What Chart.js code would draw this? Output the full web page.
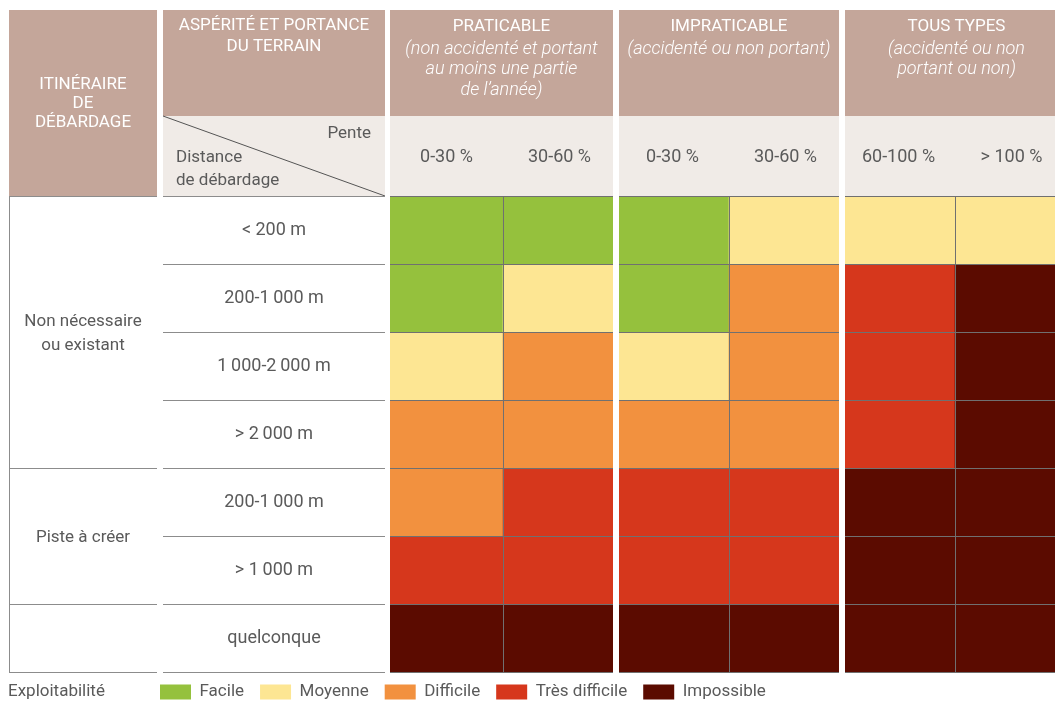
<!DOCTYPE html>
<html><head><meta charset="utf-8">
<script src="https://cdn.jsdelivr.net/npm/chart.js@4.4.1/dist/chart.umd.min.js"></script>
<style>
html,body{margin:0;padding:0;background:#fff;overflow:hidden}
#wrap{width:1055px;height:702px;overflow:hidden;position:relative}
#c{display:block}
</style></head><body>
<div id="wrap"><canvas id="c" width="1068" height="702"></canvas></div>
<script>
// ---- data ----
const slopeLabels = ['0-30 %', '30-60 %', '0-30 %', '30-60 %', '60-100 %', '> 100 %'];
const groupTitles = ['PRATICABLE', 'IMPRATICABLE', 'TOUS TYPES'];
const groupNotes = [
  ['(non accidenté et portant', 'au moins une partie', 'de l’année)'],
  ['(accidenté ou non portant)'],
  ['(accidenté ou non', 'portant ou non)']
];
const groupColumns = [2, 2, 2];
const distanceLabels = ['< 200 m', '200-1\u2009000 m', '1\u2009000-2\u2009000 m', '> 2\u2009000 m', '200-1\u2009000 m', '> 1\u2009000 m', 'quelconque'];
const routeLabels = [['Non nécessaire', 'ou existant'], ['Piste à créer'], ['']];
const routeRowSpans = [4, 2, 1];
const headerRoute = ['ITINÉRAIRE', 'DE', 'DÉBARDAGE'];
const headerTerrain = ['ASPÉRITÉ ET PORTANCE', 'DU TERRAIN'];
const cornerSlope = 'Pente';
const cornerDistance = ['Distance', 'de débardage'];
const legendTitle = 'Exploitabilité';
const levelNames = ['Facile', 'Moyenne', 'Difficile', 'Très difficile', 'Impossible'];
const levelColors = ['#95c13d', '#fde693', '#f2913f', '#d6371c', '#5b0b00'];
// exploitability level (index into levelNames) for each slope column
const rowLt200 = [0, 0, 0, 1, 1, 1];
const row200to1000 = [0, 1, 0, 2, 3, 4];
const row1000to2000 = [1, 2, 1, 2, 3, 4];
const rowGt2000 = [2, 2, 2, 2, 3, 4];
const track200to1000 = [2, 3, 3, 3, 4, 4];
const trackGt1000 = [3, 3, 3, 3, 4, 4];
const rowAny = [4, 4, 4, 4, 4, 4];
const levelRows = [rowLt200, row200to1000, row1000to2000, rowGt2000, track200to1000, trackGt1000, rowAny];

// ---- style / layout ----
const BROWN = '#c4a69a', LIGHT = '#f0ebe7', TEXT = '#5a5a5a', LINE = '#8c8c8c', CELL_LINE = '#707070';
const FAMILY = 'Roboto';
const BODY_SIZE = 17, AXIS_SIZE = 18, BODY_WEIGHT = '400';
const F_BODY = BODY_WEIGHT + ' ' + BODY_SIZE + 'px ' + FAMILY;
const F_AXIS = BODY_WEIGHT + ' ' + AXIS_SIZE + 'px ' + FAMILY;
const F_HEAD = '400 17px ' + FAMILY;
const F_NOTE = 'italic 300 18px ' + FAMILY;
const L = { top: 10, split: 116, c1L: 9, c1R: 157, c2L: 163, c2R: 385, labelCenter: 274, gap: 6, legendY: 692, legendX: 160 };

const mctx = document.createElement('canvas').getContext('2d');
mctx.font = 'normal ' + F_AXIS;
const widest = Math.max(...distanceLabels.map(s => mctx.measureText(s).width));
const Y_LABEL_AXIS_W = 390;
const yPad = (Y_LABEL_AXIS_W - L.labelCenter) - widest / 2;

function txt(ctx, s, x, y, font, color, align) {
  ctx.font = font; ctx.fillStyle = color; ctx.textAlign = align || 'center'; ctx.textBaseline = 'middle';
  ctx.fillText(s, x, y);
}
function hline(ctx, x1, x2, y, color) {
  ctx.strokeStyle = color; ctx.lineWidth = 1; ctx.beginPath();
  ctx.moveTo(x1, Math.round(y) + 0.5); ctx.lineTo(x2, Math.round(y) + 0.5); ctx.stroke();
}

const decor = {
  id: 'decor',
  afterLayout(chart) {
    const lg = chart.legend, pad = lg.options.labels.padding;
    lg.left = L.legendX - pad;
    lg.top = L.legendY - pad - BODY_SIZE / 2;
  },
  beforeDraw(chart) {
    const { ctx, chartArea: ca, scales } = chart;
    const x = scales.x, yr = scales.yRows;
    const colW = (ca.right - ca.left) / slopeLabels.length;
    const rowH = (ca.bottom - ca.top) / distanceLabels.length;
    const colL = i => i < slopeLabels.length ? x.getPixelForTick(i) - colW / 2 : ca.right;
    const rowT = r => r < distanceLabels.length ? yr.getPixelForTick(r) - rowH / 2 : ca.bottom;
    ctx.save();
    // left headers
    ctx.fillStyle = BROWN;
    ctx.fillRect(L.c1L, L.top, L.c1R - L.c1L, ca.top - L.top);
    ctx.fillRect(L.c2L, L.top, L.c2R - L.c2L, L.split - L.top);
    ctx.fillStyle = LIGHT;
    ctx.fillRect(L.c2L, L.split, L.c2R - L.c2L, ca.top - L.split);
    headerRoute.forEach((s, i) => txt(ctx, s, (L.c1L + L.c1R) / 2, 85 + i * 19, F_HEAD, '#fff'));
    headerTerrain.forEach((s, i) => txt(ctx, s, (L.c2L + L.c2R) / 2, 26 + i * 21, F_HEAD, '#fff'));
    // diagonal
    ctx.strokeStyle = '#555'; ctx.lineWidth = 1; ctx.beginPath();
    ctx.moveTo(L.c2L, L.split); ctx.lineTo(L.c2R, ca.top); ctx.stroke();
    txt(ctx, cornerSlope, 371, 134, F_BODY, TEXT, 'right');
    cornerDistance.forEach((s, i) => txt(ctx, s, 176, 158 + i * 23, F_BODY, TEXT, 'left'));
    // group headers
    let c = 0;
    groupTitles.forEach((t, g) => {
      const left = colL(c) + (c > 0 ? L.gap / 2 : 0);
      const right = colL(c + groupColumns[g]) - (c + groupColumns[g] < slopeLabels.length ? L.gap / 2 : 0);
      ctx.fillStyle = BROWN; ctx.fillRect(left, L.top, right - left, L.split - L.top);
      ctx.fillStyle = LIGHT; ctx.fillRect(left, L.split, right - left, ca.top - L.split);
      const cx = (left + right) / 2;
      txt(ctx, t, cx, 27, F_HEAD, '#fff');
      groupNotes[g].forEach((s, i) => txt(ctx, s, cx, 49 + i * 20.5, F_NOTE, '#fff'));
      c += groupColumns[g];
    });
    // left body
    for (let r = 0; r <= distanceLabels.length; r++) hline(ctx, L.c2L, L.c2R, rowT(r), LINE);
    let r0 = 0;
    hline(ctx, L.c1L, L.c1R, rowT(0), LINE);
    routeLabels.forEach((lines, k) => {
      const r1 = r0 + routeRowSpans[k];
      hline(ctx, L.c1L, L.c1R, rowT(r1), LINE);
      const cy = (rowT(r0) + rowT(r1)) / 2;
      lines.forEach((s, i) => txt(ctx, s, (L.c1L + L.c1R) / 2, cy + (i - (lines.length - 1) / 2) * 24 + 2, F_BODY, TEXT));
      r0 = r1;
    });
    ctx.strokeStyle = LINE; ctx.beginPath();
    ctx.moveTo(L.c1L + 0.5, Math.round(ca.top)); ctx.lineTo(L.c1L + 0.5, Math.round(ca.bottom) + 1); ctx.stroke();
    // legend title
    txt(ctx, legendTitle, 8, L.legendY, F_BODY, TEXT, 'left');
    ctx.restore();
  },
  afterDraw(chart) {
    const { ctx, chartArea: ca, scales } = chart;
    const x = scales.x;
    const colW = (ca.right - ca.left) / slopeLabels.length;
    ctx.save();
    ctx.fillStyle = '#ffffff';
    let c = 0;
    groupColumns.slice(0, -1).forEach(n => {
      c += n;
      const bx = x.getPixelForTick(c) - colW / 2;
      ctx.fillRect(bx - L.gap / 2, L.top, L.gap, ca.bottom - L.top + 1);
    });
    ctx.restore();
  }
};

const datasets = levelRows.map((levels, r) => ({
  label: distanceLabels[r],
  data: levels.map(() => 1), // each cell is one row tall; the colour carries the level
  backgroundColor: levels.map(l => levelColors[l]),
  borderWidth: 0,
  barPercentage: 1,
  categoryPercentage: 1,
  stack: 'grid'
}));

new Chart(document.getElementById('c'), {
  type: 'bar',
  data: { labels: slopeLabels, datasets },
  plugins: [decor],
  options: {
    responsive: false,
    devicePixelRatio: 1,
    animation: false,
    events: [],
    layout: { padding: 0 },
    scales: {
      x: {
        type: 'category', position: 'top', stacked: true, offset: true,
        grid: { offset: true, drawTicks: false, z: 1, lineWidth: 1,
          color: ctx => (ctx.index === 0 ? 'rgba(0,0,0,0)' : CELL_LINE) },
        border: { display: false },
        ticks: { color: TEXT, font: { family: FAMILY, size: AXIS_SIZE, weight: BODY_WEIGHT }, padding: 28, autoSkip: false, maxRotation: 0 },
        afterFit(s) { s.height = 196; s.paddingLeft = 0; s.paddingRight = 0; }
      },
      y: { type: 'linear', stacked: true, min: 0, max: distanceLabels.length, reverse: true, display: false },
      yRows: {
        type: 'category', labels: distanceLabels, position: 'left', offset: true,
        grid: { offset: true, drawTicks: false, z: 1, lineWidth: 1, color: CELL_LINE },
        border: { display: false },
        ticks: { color: TEXT, font: { family: FAMILY, size: AXIS_SIZE, weight: BODY_WEIGHT }, crossAlign: 'center', padding: yPad, autoSkip: false },
        afterFit(s) { s.width = Y_LABEL_AXIS_W; s.paddingTop = 0; s.paddingBottom = 0; }
      }
    },
    plugins: {
      tooltip: { enabled: false },
      title: { display: false },
      legend: {
        display: true, position: 'bottom', align: 'start', maxHeight: 30,
        labels: {
          boxWidth: 31, boxHeight: 15, padding: 16, color: TEXT,
          font: { family: FAMILY, size: BODY_SIZE, weight: BODY_WEIGHT },
          generateLabels: () => levelNames.map((n, i) => ({
            text: n, fillStyle: levelColors[i], strokeStyle: levelColors[i], lineWidth: 0, fontColor: TEXT, hidden: false, datasetIndex: 0
          }))
        }
      }
    }
  }
});
</script>
</body></html>
